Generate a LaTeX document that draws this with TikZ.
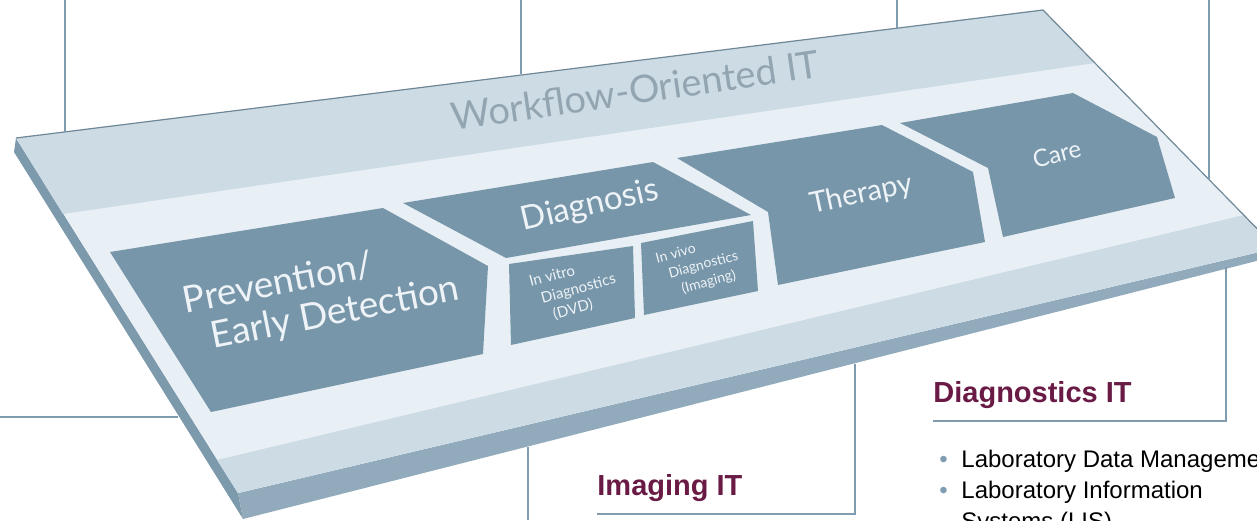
\documentclass[tikz,border=0pt]{standalone}
\usepackage{fontspec}
\setmainfont{Liberation Sans}
\newfontfamily\slabfont{Lato}

\definecolor{slabtop}{HTML}{E8F0F6}
\definecolor{slabband}{HTML}{CDDBE5}
\definecolor{slabfront}{HTML}{91ABBC}
\definecolor{slabside}{HTML}{7D99AC}
\definecolor{slabedge}{HTML}{6F8797}
\definecolor{phasebox}{HTML}{7896AA}
\definecolor{leader}{HTML}{7F9CB1}
\definecolor{headc}{HTML}{6A1B45}
\definecolor{slabtext}{HTML}{93A5B1}
\definecolor{boxtext}{HTML}{EDF3F7}

\tikzset{
	phase/.style={fill=phasebox, draw=none},
	leadline/.style={draw=leader, line width=1pt},
	phaselabel/.style={inner sep=0pt, text=boxtext, align=left},
	heading/.style={inner sep=0pt, anchor=base west, text=headc, font=\fontsize{14.5}{17}\selectfont\bfseries},
}

\newcommand\blt{\makebox[11pt][l]{\textcolor{leader}{\textbullet}}}

\begin{document}
\begin{tikzpicture}[x=0.5pt, y=-0.5pt]
	\useasboundingbox (0,0) rectangle (1257,520);
	\begin{scope}
	\clip (0,0) rectangle (1257,520);
	
	% slab corners
	\coordinate (tl) at (16,138);
	\coordinate (tr) at (1043,10);
	\coordinate (br) at (1276,248);
	\coordinate (bl) at (238,493);
	
	\fill[slabside] (tl) -- (bl) -- (243,519) -- (14,152) -- cycle;
	\fill[slabfront] (bl) -- (br) -- (1280,255) -- (243,519) -- cycle;
	\fill[slabtop] (tl) -- (tr) -- (br) -- (bl) -- cycle;
	\fill[slabband] (tl) -- (tr) -- (1095,63) -- (63,214) -- cycle;
	\fill[slabband] (217,460) -- (1244,215) -- (br) -- (bl) -- cycle;
	\draw[slabedge, line width=0.6pt] (tl) -- (tr) -- (br);
	
	% phases
	\fill[phase] (110,252) -- (383,208) -- (488,266) -- (483,354) -- (211,412) -- cycle;
	\fill[phase] (403,203) -- (653,162) -- (751,215) -- (506,258) -- cycle;
	\fill[phase] (509,264) -- (633,246) -- (635,318) -- (511,345) -- cycle;
	\fill[phase] (641,243) -- (753,221) -- (758,291) -- (644,315) -- cycle;
	\fill[phase] (677,158) -- (882,125) -- (973,172) -- (985,242) -- (778,285) -- (768,212) -- cycle;
	\fill[phase] (900,123) -- (1073,93) -- (1157,137) -- (1175,198) -- (1003,237) -- (988,168) -- cycle;
	
	% base of a multi-line node = last line
	\node[inner sep=0pt, anchor=base, rotate=8.3, text=slabtext, font=\slabfont\fontsize{19}{22}\selectfont] (workflow) at (637,104) {Workflow-Oriented IT};
	\node[phaselabel, anchor=base west, rotate=11.2, font=\slabfont\fontsize{18.5}{20}\selectfont] (prevention) at (193,353) {Prevention/\\\hspace*{10.3pt}Early Detection};
	\node[phaselabel, anchor=base, rotate=13, font=\slabfont\fontsize{16.5}{19}\selectfont] (diagnosis) at (592,215) {Diagnosis};
	\node[phaselabel, anchor=base west, rotate=15, font=\slabfont\fontsize{7.5}{9.3}\selectfont] (invitro) at (540,323) {In vitro\\\hspace*{3.7pt}Diagnostics\\\hspace*{7.4pt}(DVD)};
	\node[phaselabel, anchor=base west, rotate=15, font=\slabfont\fontsize{7}{9}\selectfont] (invivo) at (666,298) {In vivo\\\hspace*{4.3pt}Diagnostics\\\hspace*{8.6pt}(Imaging)};
	\node[phaselabel, anchor=base, rotate=12, font=\slabfont\fontsize{14.5}{17}\selectfont] (therapy) at (863,203) {Therapy};
	\node[phaselabel, anchor=base, rotate=14.5, font=\slabfont\fontsize{12}{14}\selectfont] (care) at (1059,162) {Care};
	
	% leaders to the boxes outside
	\coordinate (lead1a) at (65,0);   \coordinate (lead1b) at (65,132);
	\coordinate (lead2a) at (521,0);  \coordinate (lead2b) at (521,74);
	\coordinate (lead3a) at (897,0);  \coordinate (lead3b) at (897,28);
	\coordinate (lead4a) at (1209,0); \coordinate (lead4b) at (1209,180);
	\coordinate (lead5a) at (0,417);  \coordinate (lead5b) at (178,417);
	\coordinate (lead6a) at (528,447); \coordinate (lead6b) at (528,520);
	\foreach \i in {1,...,6}
		\draw[leadline] (lead\i a) -- (lead\i b);
	
	% Imaging IT
	\node[heading] (imaging) at (597,495) {Imaging IT};
	\coordinate (imgfoot) at (855,514);
	\coordinate (imgtop) at (855,364);
	\draw[leadline] (imaging.west |- imgfoot) -- (imgfoot) -- (imgtop);
	
	% Diagnostics IT
	\node[heading] (diagit) at (933,402) {Diagnostics IT};
	\coordinate (diagfoot) at (1226,421);
	\coordinate (diagtop) at (1226,267);
	\draw[leadline] (diagit.west |- diagfoot) -- (diagfoot) -- (diagtop);
	
	\node[inner sep=0pt, anchor=base west, align=left, font=\fontsize{12}{15.5}\selectfont] (diaglist) at (939,529) {\blt Laboratory Data Management\\\blt Laboratory Information\\\hspace*{11pt}Systems (LIS)};
	\end{scope}
\end{tikzpicture}
\end{document}
